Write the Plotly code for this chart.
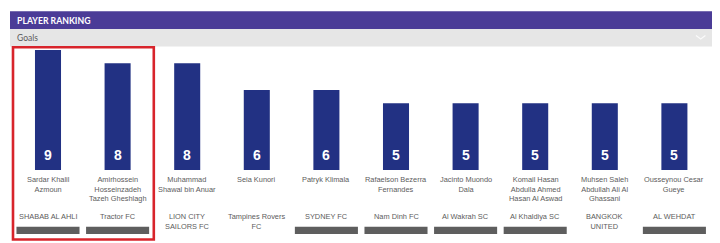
import plotly.graph_objects as go

# ---- data ----
players = [
    "Sardar Khalil<br>Azmoun",
    "Amirhossein<br>Hosseinzadeh<br>Tazeh Gheshlagh",
    "Muhammad<br>Shawal bin Anuar",
    "Seia Kunori",
    "Patryk Klimala",
    "Rafaelson Bezerra<br>Fernandes",
    "Jacinto Muondo<br>Dala",
    "Komail Hasan<br>Abdulla Ahmed<br>Hasan Al Aswad",
    "Muhsen Saleh<br>Abdullah Ali Al<br>Ghassani",
    "Ousseynou Cesar<br>Gueye",
]
goals = [9, 8, 8, 6, 6, 5, 5, 5, 5, 5]
teams = [
    "SHABAB AL AHLI",
    "Tractor FC",
    "LION CITY<br>SAILORS FC",
    "Tampines Rovers<br>FC",
    "SYDNEY FC",
    "Nam Dinh FC",
    "Al Wakrah SC",
    "Al Khaldiya SC",
    "BANGKOK<br>UNITED",
    "AL WEHDAT",
]
has_badge = [True, True, False, False, True, True, True, True, False, True]
title = "PLAYER RANKING"
subtitle = "Goals"

W, H = 720, 243
def py(p):
    return 1 - p / H
def px(p):
    return p / W

x_idx = list(range(len(goals)))
TXT = dict(family="Liberation Sans, Arial", size=7.4, color="#5c5c5c")

fig = go.Figure()
fig.add_trace(go.Bar(
    x=x_idx, y=goals, width=0.374,
    marker=dict(color="#223183", line=dict(width=0)),
    hoverinfo="skip",
))

annotations = []
# value labels inside bars
for i, v in zip(x_idx, goals):
    annotations.append(dict(
        x=i, y=0, xref="x", yref="y", text=f"<b>{v}</b>", showarrow=False,
        yanchor="middle", yshift=15,
        font=dict(family="Liberation Sans, Arial", size=14, color="white"),
    ))
# player names
for i, name in zip(x_idx, players):
    annotations.append(dict(
        x=i, y=py(174.3), xref="x", yref="paper", text=name,
        showarrow=False, yanchor="top", xanchor="center", align="center",
        borderpad=0, font=TXT,
    ))
# team names
for i, team in zip(x_idx, teams):
    annotations.append(dict(
        x=i, y=py(210.9), xref="x", yref="paper", text=team,
        showarrow=False, yanchor="top", xanchor="center", align="center",
        borderpad=0, font=TXT,
    ))
# header texts
annotations.append(dict(
    x=px(16), y=py(20.3), xref="paper", yref="paper", text=f"<b>{title}</b>",
    showarrow=False, xanchor="left", yanchor="middle", borderpad=0,
    font=dict(family="Lato", size=8.7, color="white"),
))
annotations.append(dict(
    x=px(16), y=py(37.8), xref="paper", yref="paper", text=subtitle,
    showarrow=False, xanchor="left", yanchor="middle", borderpad=0,
    font=dict(family="Lato", size=8.5, color="#5a5a5a"),
))

shapes = [
    dict(type="rect", xref="paper", yref="paper", x0=px(10), x1=px(712),
         y0=py(29), y1=py(11.3), fillcolor="#4B3C97", line=dict(width=0), layer="below"),
    dict(type="rect", xref="paper", yref="paper", x0=px(10), x1=px(712),
         y0=py(46.5), y1=py(29), fillcolor="#E6E6E6", line=dict(width=0), layer="below"),
    dict(type="path", xref="paper", yref="paper",
         path=f"M {px(696)} {py(35.5)} L {px(700.7)} {py(39)} L {px(705.4)} {py(35.5)}",
         line=dict(color="#FAFAFA", width=1.2)),
]
# badge placeholders
for i, b in zip(x_idx, has_badge):
    if b:
        shapes.append(dict(type="rect", xref="x", yref="paper",
                           x0=i - 0.453, x1=i + 0.453, y0=py(234), y1=py(226.7),
                           fillcolor="#5E5E5E", line=dict(width=0)))
# red highlight box around first two players
shapes.append(dict(type="rect", xref="x", yref="paper",
                   x0=(13.0 - 48) / 69.6, x1=(153.8 - 48) / 69.6,
                   y0=py(239.5), y1=py(47.2),
                   fillcolor="rgba(0,0,0,0)", line=dict(color="#D8242B", width=2.6)))

fig.update_layout(
    width=W, height=H,
    margin=dict(l=0, r=0, t=0, b=0),
    paper_bgcolor="white", plot_bgcolor="white",
    showlegend=False,
    xaxis=dict(range=[-48 / 69.6, (720 - 48) / 69.6], visible=False, fixedrange=True),
    yaxis=dict(range=[-73 / 13.333, 170 / 13.333], visible=False, fixedrange=True),
    annotations=annotations,
    shapes=shapes,
)

fig.write_html("out.html", config={"displayModeBar": False})
